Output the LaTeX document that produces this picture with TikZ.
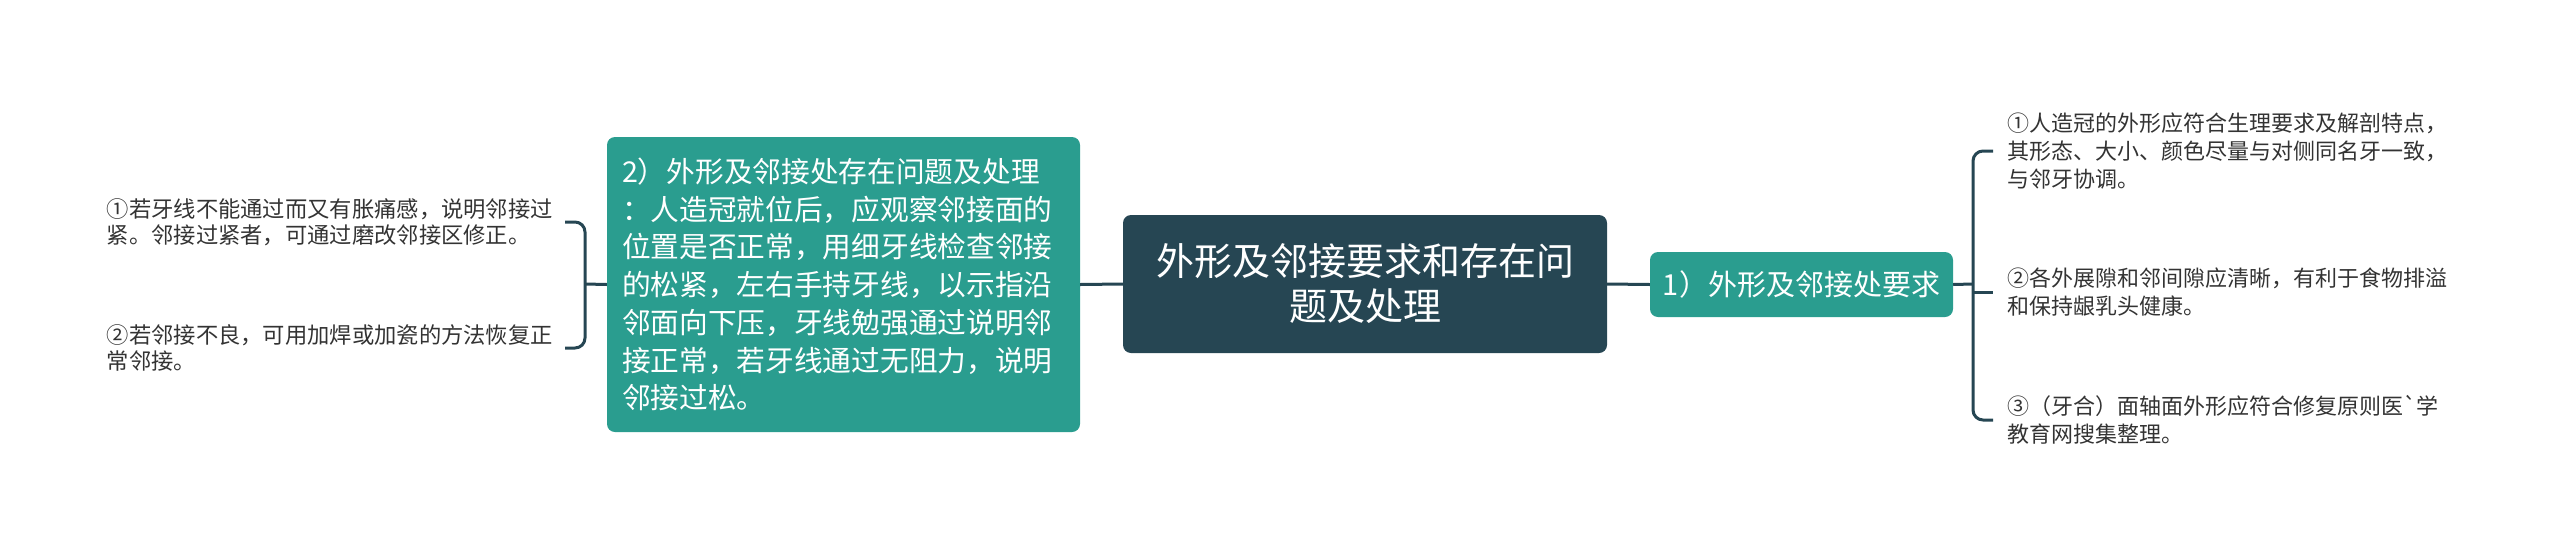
\documentclass[tikz,border=0pt]{standalone}
\usepackage{fontspec}
\setmainfont{Noto Sans CJK SC}
\usepackage{tikz}
\definecolor{rootblue}{HTML}{264653}
\definecolor{subgreen}{HTML}{2A9D8F}
\definecolor{leafgray}{HTML}{333333}

\begin{document}
\begin{tikzpicture}[x=1pt,y=-1pt,
  conn/.style={draw=rootblue,line width=3pt},
  rootbox/.style={fill=rootblue,text=white,rounded corners=8pt,
    minimum width=484pt,minimum height=138pt,align=center,
    font=\fontsize{38}{45}\selectfont},
  subbox/.style={fill=subgreen,text=white,rounded corners=8pt},
  leaftext/.style={text=leafgray,align=left,inner ysep=0pt}]
\useasboundingbox (0,0) rectangle (2560,555);
% the centre and the two branches
  \node [rootbox] (root) at (1365,284) {外形及邻接要求和存在问\\题及处理};
  \node [subbox,minimum width=303pt,minimum height=65pt,
         font=\fontsize{29}{34}\selectfont] (req) at (1801.5,284.5)
        {1）外形及邻接处要求};
  \node [subbox,minimum height=295pt,text width=443pt,inner xsep=15pt,
         align=left,font=\fontsize{28.7}{37.7}\selectfont] (prob) at (843.5,284.5)
        {2）外形及邻接处存在问题及处理\\
         ：人造冠就位后，应观察邻接面的\\
         位置是否正常，用细牙线检查邻接\\
         的松紧，左右手持牙线，以示指沿\\
         邻面向下压，牙线勉强通过说明邻\\
         接正常，若牙线通过无阻力，说明\\
         邻接过松。};
% leaves on the right
  \node [leaftext,anchor=west,inner xsep=14pt,
         font=\fontsize{22}{28}\selectfont] (reqa) at (1993,151)
        {①人造冠的外形应符合生理要求及解剖特点，\\
         其形态、大小、颜色尽量与对侧同名牙一致，\\
         与邻牙协调。};
  \node [leaftext,anchor=west,inner xsep=14pt,
         font=\fontsize{22}{28}\selectfont] (reqb) at (1993,292)
        {②各外展隙和邻间隙应清晰，有利于食物排溢\\
         和保持龈乳头健康。};
  \node [leaftext,anchor=west,inner xsep=14pt,
         font=\fontsize{22}{28}\selectfont] (reqc) at (1993,420)
        {③（牙合）面轴面外形应符合修复原则医\textasciigrave 学\\
         教育网搜集整理。};
% leaves on the left
  \node [leaftext,anchor=east,inner xsep=12pt,
         font=\fontsize{22.3}{26}\selectfont] (proba) at (565,222)
        {①若牙线不能通过而又有胀痛感，说明邻接过\\
         紧。邻接过紧者，可通过磨改邻接区修正。};
  \node [leaftext,anchor=east,inner xsep=12pt,
         font=\fontsize{22.3}{26}\selectfont] (probb) at (565,348)
        {②若邻接不良，可用加焊或加瓷的方法恢复正\\
         常邻接。};
% connectors
  \coordinate (rjoin) at (1973,284);
  \coordinate (ljoin) at (585,284);
  \draw [conn] (root.west) -- (prob.east);
  \draw [conn] (root.east) -- (req.west);
  \draw [conn] (req.east) -- (rjoin);
  \draw [conn,rounded corners=10pt] (reqa.west) -| (rjoin) |- (reqc.west);
  \draw [conn] (rjoin |- reqb.west) -- (reqb.west);
  \draw [conn] (prob.west) -- (ljoin);
  \draw [conn,rounded corners=10pt] (proba.east) -| (ljoin) |- (probb.east);
\end{tikzpicture}
\end{document}
